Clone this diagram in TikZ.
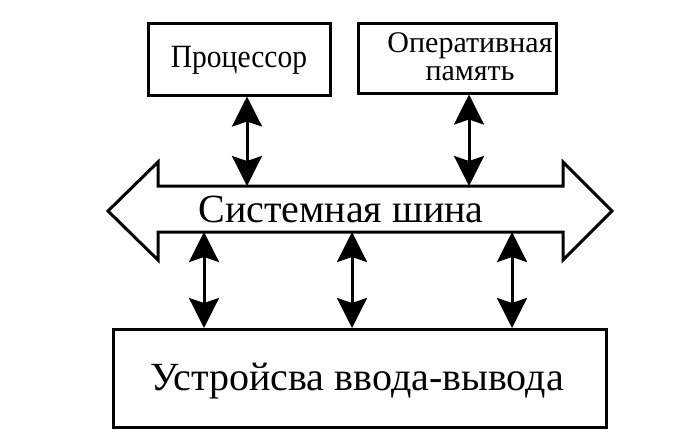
\documentclass[tikz,border=0pt]{standalone}
\usepackage{fontspec}
\setmainfont{Liberation Serif}
\usetikzlibrary{arrows.meta}
\begin{document}
\begin{tikzpicture}[x=1pt,y=-1pt,
  box/.style={draw,line width=3pt,inner sep=0pt},
  txt/.style={anchor=base,inner sep=0pt},
  dbl/.style={line width=3pt,{Stealth[width=30pt,length=30pt,inset=5pt]}-{Stealth[width=30pt,length=30pt,inset=5pt]}}]
\useasboundingbox (0,0) rectangle (700,440);
% boxes
\node[box,minimum width=182pt,minimum height=72pt] (cpu) at (239.5,59) {};
\node[box,minimum width=198pt,minimum height=70pt] (ram) at (457,58) {};
\node[box,minimum width=493pt,minimum height=98pt] (io) at (359.5,378.5) {};
% texts
\node[txt,font=\fontsize{29.5}{32}\selectfont] (cputxt) at (239,67) {\scalebox{1}[1.1]{Процессор}};
\node[txt,font=\fontsize{30}{32}\selectfont] (ramtxt1) at (470,52) {Оперативная};
\node[txt,font=\fontsize{30}{32}\selectfont] (ramtxt2) at (470,80) {память};
\node[txt,font=\fontsize{40}{44}\selectfont] (bus) at (341,222) {Системная шина};
\node[txt,font=\fontsize{40}{44}\selectfont] (iotxt) at (357,390) {Устройсва ввода-вывода};
% bus
\draw[line width=3pt,line join=miter] (108,211) -- (158,162) -- (158,186) -- (563,186) -- (563,162) -- (612,211) -- (563,260) -- (563,232) -- (158,232) -- (158,260) -- cycle;
\coordinate (bt1) at (247,186);
\coordinate (bt2) at (469,186);
\coordinate (bb1) at (204,232);
\coordinate (bb2) at (352,232);
\coordinate (bb3) at (512,232);
\draw[dbl] (cpu.south -| bt1) -- (bt1);
\draw[dbl] (ram.south -| bt2) -- (bt2);
\draw[dbl] (bb1) -- (io.north -| bb1);
\draw[dbl] (bb2) -- (io.north -| bb2);
\draw[dbl] (bb3) -- (io.north -| bb3);
\end{tikzpicture}
\end{document}
